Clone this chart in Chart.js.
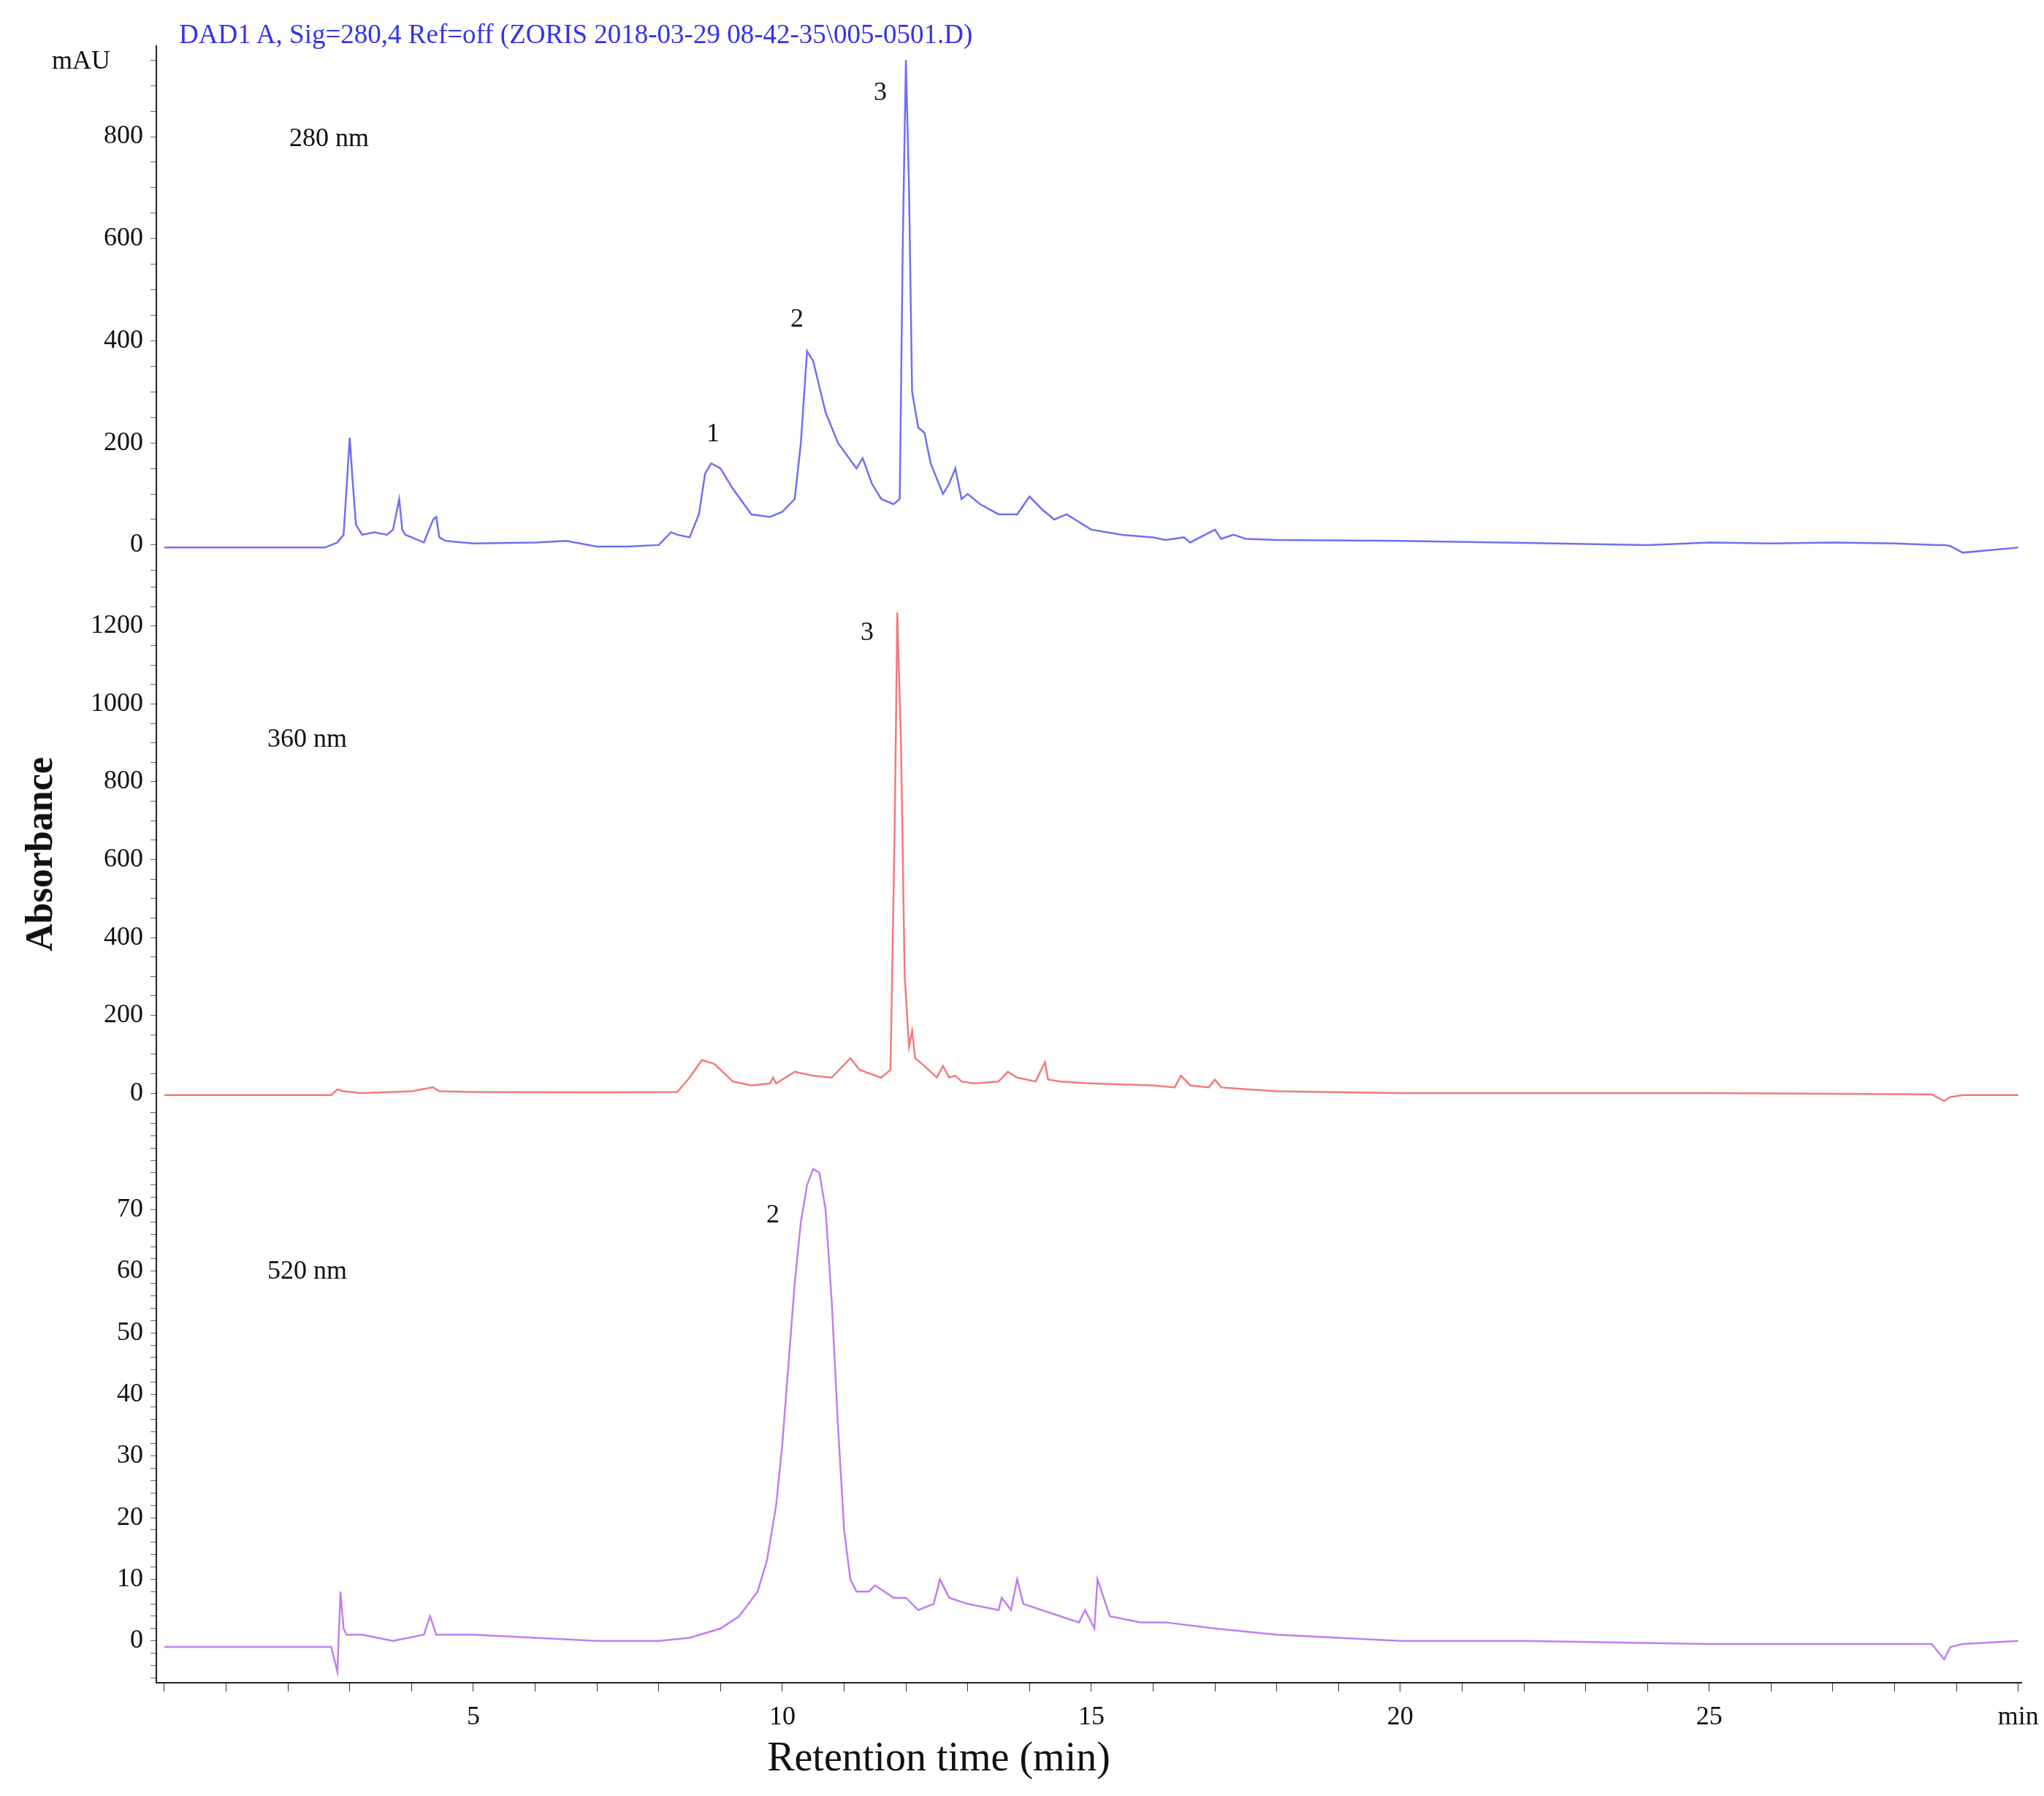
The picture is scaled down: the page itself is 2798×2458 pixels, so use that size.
<!DOCTYPE html>
<html><head><meta charset="utf-8">
<script src="https://cdn.jsdelivr.net/npm/chart.js@4.4.1/dist/chart.umd.min.js"></script>
<style>
body{margin:0;width:2798px;height:2458px;background:#fff;position:relative;overflow:hidden;font-family:"Liberation Serif","Times New Roman",serif;}
canvas{position:absolute;left:0;}
.t{position:absolute;white-space:nowrap;color:#111;font-size:36px;line-height:1;}
</style></head><body>
<canvas id="c1"></canvas><canvas id="c2"></canvas><canvas id="c3"></canvas>
<div class="t" style="left:245px;top:28px;color:#3333ee;font-size:37px">DAD1 A, Sig=280,4 Ref=off (ZORIS 2018-03-29 08-42-35\005-0501.D)</div>
<div class="t" style="left:71px;top:64px">mAU</div>
<div class="t" style="left:396px;top:170px">280 nm</div>
<div class="t" style="left:366px;top:992px">360 nm</div>
<div class="t" style="left:366px;top:1720px">520 nm</div>
<div class="t" style="left:967px;top:574px">1</div>
<div class="t" style="left:1082px;top:417px">2</div>
<div class="t" style="left:1196px;top:107px">3</div>
<div class="t" style="left:1178px;top:846px">3</div>
<div class="t" style="left:1049px;top:1643px">2</div>
<div class="t" style="left:54px;top:1169px;font-size:52px;font-weight:bold;transform:translate(-50%,-50%) rotate(-90deg)">Absorbance</div>
<div class="t" style="left:1285px;top:2404px;font-size:56px;transform:translate(-50%,-50%)">Retention time (min)</div>
<script>
const t280=[0,2.6,2.8,2.9,3.0,3.05,3.1,3.2,3.4,3.6,3.7,3.8,3.85,3.9,4.0,4.2,4.35,4.4,4.45,4.55,5,6,6.5,7,7.5,8.0,8.2,8.3,8.5,8.65,8.75,8.85,9.0,9.2,9.5,9.8,10.0,10.2,10.3,10.4,10.5,10.7,10.9,11.2,11.3,11.45,11.6,11.8,11.9,11.95,12.0,12.05,12.1,12.2,12.3,12.4,12.6,12.7,12.8,12.9,13.0,13.2,13.5,13.8,14.0,14.2,14.4,14.6,15,15.5,16,16.2,16.5,16.6,17,17.1,17.3,17.5,18,20,22,23,24,25,26,27,28,28.7,28.8,28.9,29.1,30];
const v280=[-5,-5,5,20,210,120,40,20,25,20,30,90,30,20,15,5,50,55,15,8,3,5,8,-3,-3,0,25,20,15,60,140,160,150,110,60,55,65,90,200,380,360,260,200,150,170,120,90,80,90,600,950,700,300,230,220,160,100,120,150,90,100,80,60,60,95,70,50,60,30,20,15,10,15,5,30,12,20,12,10,8,4,2,0,5,3,5,3,0,0,-2,-15,-5,-5,-5];
const t360=[0,2.7,2.8,2.9,3.2,4.0,4.35,4.45,5,7,8.3,8.5,8.7,8.9,9.2,9.5,9.8,9.85,9.9,10.2,10.5,10.8,11.1,11.25,11.6,11.75,11.82,11.86,11.92,11.98,12.05,12.1,12.15,12.3,12.5,12.6,12.7,12.8,12.9,13.1,13.5,13.65,13.8,14.1,14.25,14.3,14.5,15,16,16.35,16.45,16.6,16.9,17.0,17.1,17.5,18,20,25,28.6,28.8,28.9,29.1,30];
const v360=[-5,-5,10,5,0,5,15,5,3,2,3,40,85,75,30,20,25,40,25,55,45,40,90,60,40,60,700,1235,900,300,120,160,90,70,40,70,40,45,30,25,30,55,40,30,80,35,30,25,20,15,45,20,15,35,15,10,5,0,0,-3,-20,-10,-5,-5];
const t520=[0,2.7,2.8,2.85,2.9,2.95,3.2,3.7,4.2,4.3,4.4,5,7,8.0,8.5,9.0,9.3,9.6,9.75,9.9,10.0,10.1,10.2,10.3,10.4,10.5,10.6,10.7,10.8,10.9,11.0,11.1,11.2,11.4,11.5,11.8,12.0,12.2,12.45,12.55,12.7,13.0,13.5,13.55,13.7,13.8,13.9,14.5,14.8,14.9,15.05,15.1,15.3,15.8,16.2,17,18,19,20,22,25,28.6,28.8,28.9,29.1,30];
const v520=[-1,-1,-5,8,2,1,1,0,1,4,1,1,0,0,0.5,2,4,8,13,22,32,45,58,68,74,76.6,76,70,55,35,18,10,8,8,9,7,7,5,6,10,7,6,5,7,5,10,6,4,3,5,2,10,4,3,3,2,1,0.5,0,0,-0.5,-0.5,-3,-1,-0.5,0];

function make(id,top,h,ts,vs,color,ymin,ymax,yStep,yLabelEvery,yLabelMax,showX){
  const cv=document.getElementById(id);
  cv.style.top=top+'px';cv.width=2798;cv.height=h;cv.style.width='2798px';cv.style.height=h+'px';
  const data=ts.map((x,i)=>({x:x,y:vs[i]}));
  new Chart(cv,{type:'line',
    data:{datasets:[{data:data,borderColor:color,borderWidth:2.5,pointRadius:0,tension:0,fill:false}]},
    options:{responsive:false,animation:false,devicePixelRatio:1,
      layout:{padding:{left:0,right:31,top:0,bottom:0}},
      plugins:{legend:{display:false},tooltip:{enabled:false}},
      scales:{
        x:{type:'linear',min:-0.13,max:30.05,display:showX,
          afterBuildTicks:s=>{const a=[];for(let i=0;i<=30;i++)a.push({value:i});s.ticks=a;},
          afterFit:s=>{s.height=showX?155:0;s.paddingLeft=0;s.paddingRight=0;},
          grid:{drawOnChartArea:false,tickLength:12,color:'#333'},
          border:{color:'#222',width:2},
          ticks:{autoSkip:false,maxRotation:0,padding:14,color:'#111',font:{family:'Liberation Serif',size:36},
            callback:v=>v===30?'min':(v%5===0&&v>0?String(v):'')}},
        y:{type:'linear',min:ymin,max:ymax,
          afterBuildTicks:s=>{const a=[];for(let v=Math.ceil(ymin/yStep)*yStep;v<=ymax;v+=yStep)a.push({value:v});s.ticks=a;},
          afterFit:s=>{s.width=214;s.paddingTop=0;s.paddingBottom=0;},
          grid:{drawOnChartArea:false,tickLength:8,color:'#666'},
          border:{color:'#222',width:2},
          ticks:{autoSkip:false,padding:10,color:'#111',font:{family:'Liberation Serif',size:36},
            callback:v=>(Math.abs(v%yLabelEvery)<1e-6&&v>=0&&v<=yLabelMax)?String(v):''}}
      }}});
}
make('c1',62,723,t280,v280,'#6f6ff5',-56,979,50,200,800,false);
make('c2',785,750,t360,v360,'#f47a7a',-73,1335,50,200,1200,false);
make('c3',1535,923,t520,v520,'#c27ef0',-6.8,84.3,2,10,70,true);
</script></body></html>
